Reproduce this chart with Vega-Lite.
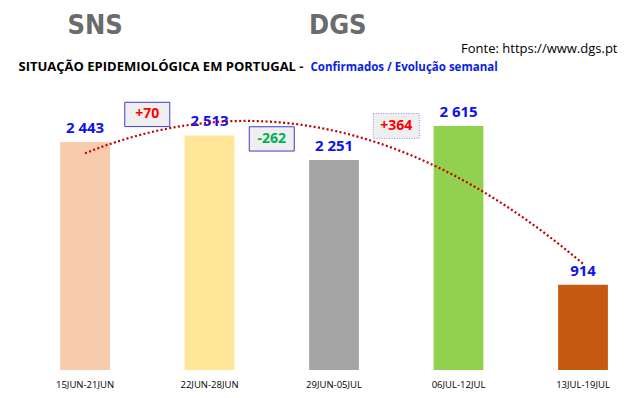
{
  "$schema": "https://vega.github.io/schema/vega-lite/v6.json",
  "width": 640,
  "height": 280,
  "autosize": {"type": "none"},
  "padding": {"top": 90, "left": 0, "right": 0, "bottom": 28},
  "background": "white",
  "config": {"view": {"stroke": null}, "font": "Open Sans"},
  "title": {
    "text": "DGS",
    "anchor": "start",
    "dx": 309,
    "offset": -50,
    "baseline": "alphabetic",
    "fontSize": 27,
    "fontWeight": "bold",
    "color": "#6B6B6B",
    "font": "'Liberation Sans Narrow', 'DejaVu Sans Condensed', 'Liberation Sans', sans-serif"
  },
  "datasets": {
    "semanas": [
      {"semana": "15JUN-21JUN", "ordem": 1, "confirmados": 2443, "rotulo": "2 443"},
      {"semana": "22JUN-28JUN", "ordem": 2, "confirmados": 2513, "rotulo": "2 513"},
      {"semana": "29JUN-05JUL", "ordem": 3, "confirmados": 2251, "rotulo": "2 251"},
      {"semana": "06JUL-12JUL", "ordem": 4, "confirmados": 2615, "rotulo": "2 615"},
      {"semana": "13JUL-19JUL", "ordem": 5, "confirmados": 914, "rotulo": "914"}
    ],
    "variacoes": [
      {"de": "15JUN-21JUN", "atual": 2513, "variacao": 70, "texto": "+70"},
      {"de": "22JUN-28JUN", "atual": 2251, "variacao": -262, "texto": "-262"},
      {"de": "29JUN-05JUL", "atual": 2615, "variacao": 364, "texto": "+364"}
    ]
  },
  "layer": [
    {
      "layer": [
        {
          "data": {"name": "semanas"},
          "mark": {"type": "bar"},
          "encoding": {
            "x": {
              "field": "semana",
              "type": "nominal",
              "scale": {
                "domain": ["15JUN-21JUN", "22JUN-28JUN", "29JUN-05JUL", "06JUL-12JUL", "13JUL-19JUL"],
                "paddingInner": 0.6,
                "paddingOuter": 0.3703,
                "align": 0.652
              },
              "axis": {
                "orient": "bottom",
                "labelAngle": 0,
                "labelFontSize": 9.5,
                "labelColor": "#000000",
                "labelPadding": 9,
                "ticks": false,
                "domain": false,
                "grid": false,
                "title": "Fonte: https://www.dgs.pt",
                "titleFontSize": 13,
                "titleFontWeight": "normal",
                "titleColor": "#000000",
                "titleX": 617,
                "titleY": -318,
                "titleAlign": "right",
                "titleBaseline": "alphabetic",
                "titleAnchor": null
              }
            },
            "y": {
              "field": "confirmados",
              "type": "quantitative",
              "scale": {"domain": [0, 3000], "nice": false},
              "axis": {
                "orient": "left",
                "labels": false,
                "ticks": false,
                "domain": false,
                "grid": false,
                "title": "SITUAÇÃO EPIDEMIOLÓGICA EM PORTUGAL -",
                "titleFontSize": 13,
                "titleFontWeight": "bold",
                "titleColor": "#000000",
                "titleAngle": 0,
                "titleX": 18,
                "titleY": -20,
                "titleAlign": "left",
                "titleBaseline": "alphabetic",
                "titleAnchor": null
              }
            },
            "color": {
              "field": "semana",
              "type": "nominal",
              "scale": {
                "domain": ["15JUN-21JUN", "22JUN-28JUN", "29JUN-05JUL", "06JUL-12JUL", "13JUL-19JUL"],
                "range": ["#F8CBAD", "#FFE699", "#A5A5A5", "#92D050", "#C55A11"]
              },
              "legend": null
            }
          }
        },
        {
          "data": {"name": "semanas"},
          "mark": {"type": "text", "baseline": "alphabetic", "dy": -9, "fontSize": 15, "fontWeight": "bold", "color": "#1010F0"},
          "encoding": {
            "x": {"field": "semana", "type": "nominal"},
            "y": {"field": "confirmados", "type": "quantitative"},
            "text": {"field": "rotulo"}
          }
        },
        {
          "data": {"name": "variacoes"},
          "transform": [{"filter": "datum.variacao < 300"}],
          "layer": [
            {
              "mark": {"type": "point", "shape": "M-1,-0.54H1V0.54H-1Z", "filled": true, "size": 2025, "fill": "#EFEFEF", "stroke": "#3C3CD2", "strokeWidth": 1, "opacity": 1, "fillOpacity": 1}
            },
            {
              "mark": {"type": "text", "baseline": "middle", "fontSize": 14, "fontWeight": "bold"},
              "encoding": {
                "text": {"field": "texto"},
                "color": {"condition": {"test": "datum.variacao > 0", "value": "#FF0000"}, "value": "#00B050"}
              }
            }
          ],
          "encoding": {
            "x": {"field": "de", "type": "nominal", "bandPosition": 1.75},
            "y": {"field": "atual", "type": "quantitative"},
            "yOffset": {"value": -21}
          }
        },
        {
          "data": {"name": "variacoes"},
          "transform": [{"filter": "datum.variacao >= 300"}],
          "layer": [
            {
              "mark": {"type": "point", "shape": "M-1,-0.54H1V0.54H-1Z", "filled": true, "size": 2116, "fill": "#EFEFEF", "stroke": "#8C8CE6", "strokeDash": [1, 1.5], "strokeWidth": 1, "opacity": 1, "fillOpacity": 1}
            },
            {
              "mark": {"type": "text", "baseline": "middle", "fontSize": 14, "fontWeight": "bold", "color": "#FF0000"},
              "encoding": {"text": {"field": "texto"}}
            }
          ],
          "encoding": {
            "x": {"field": "de", "type": "nominal", "bandPosition": 1.75},
            "y": {"field": "atual", "type": "quantitative"}
          }
        }
      ]
    },
    {
      "data": {"name": "semanas"},
      "transform": [{"regression": "confirmados", "on": "ordem", "method": "poly", "order": 2}],
      "mark": {"type": "line", "color": "#C00000", "strokeWidth": 2.2, "strokeDash": [2, 2.4]},
      "encoding": {
        "x": {
          "field": "ordem",
          "type": "quantitative",
          "scale": {"domain": [0.3173, 5.4579], "nice": false, "zero": false},
          "axis": {
            "orient": "top",
            "labels": false,
            "ticks": false,
            "domain": false,
            "grid": false,
            "title": "Confirmados / Evolução semanal",
            "titleFontSize": 11.5,
            "titleFontWeight": "bold",
            "titleColor": "#0A1EE6",
            "titleX": 310,
            "titleY": -20,
            "titleAlign": "left",
            "titleBaseline": "alphabetic",
            "titleAnchor": null
          }
        },
        "y": {
          "field": "confirmados",
          "type": "quantitative",
          "scale": {"domain": [0, 3000], "nice": false},
          "axis": {
            "orient": "right",
            "labels": false,
            "ticks": false,
            "domain": false,
            "grid": false,
            "title": "SNS",
            "titleFont": "'Liberation Sans Narrow', 'DejaVu Sans Condensed', 'Liberation Sans', sans-serif",
            "titleFontSize": 27,
            "titleFontWeight": "bold",
            "titleColor": "#6B6B6B",
            "titleAngle": 0,
            "titleX": -573,
            "titleY": -57,
            "titleAlign": "left",
            "titleBaseline": "alphabetic",
            "titleAnchor": null
          }
        }
      }
    }
  ],
  "resolve": {
    "scale": {"x": "independent", "y": "independent"},
    "axis": {"x": "independent", "y": "independent"}
  }
}
